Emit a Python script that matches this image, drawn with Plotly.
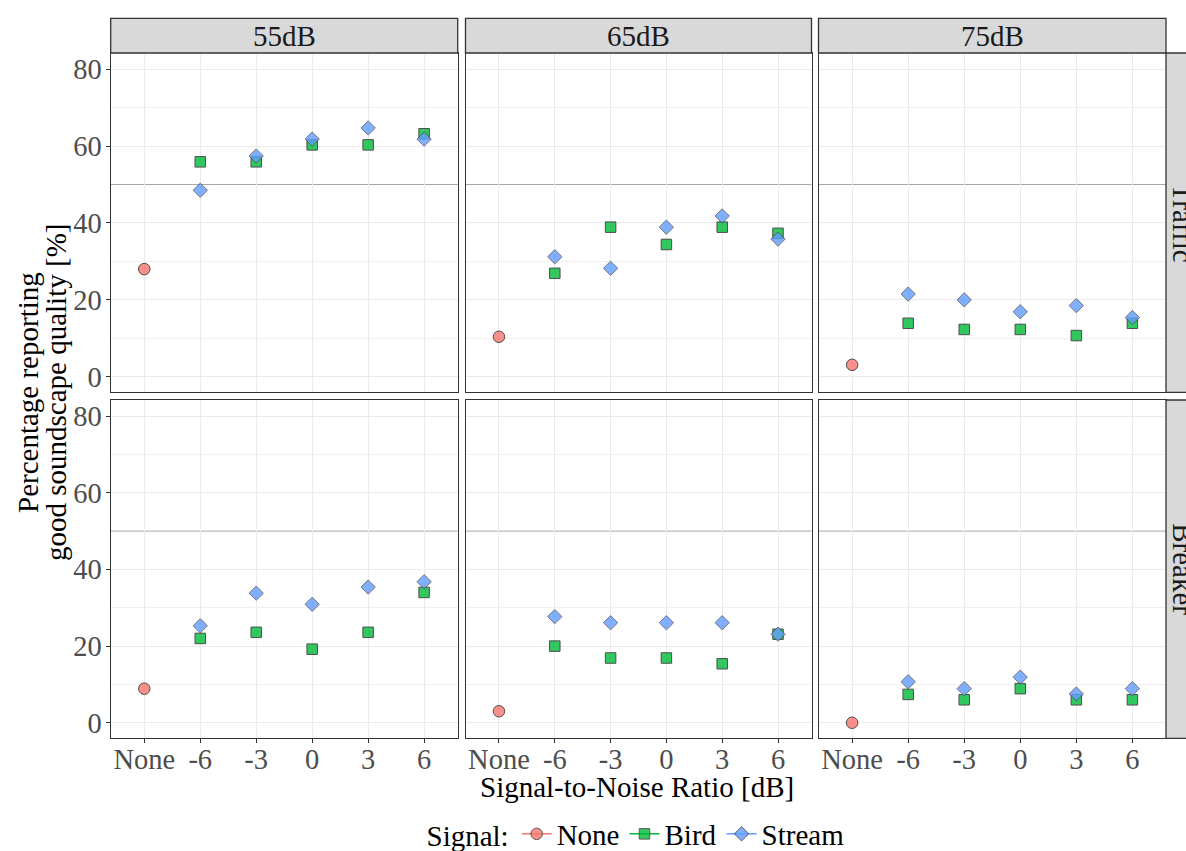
import plotly.graph_objects as go
from plotly.subplots import make_subplots

# ---------------- data ----------------
LEVELS = ["55dB", "65dB", "75dB"]
NOISES = ["Traffic", "Breaker"]
X_CATS = ["None", "-6", "-3", "0", "3", "6"]
SNR = ["-6", "-3", "0", "3", "6"]

# "None" signal condition, one value per level (55, 65, 75 dB)
NONE_TRAFFIC = [28.0, 10.4, 3.1]
NONE_BREAKER = [8.9, 3.0, 0.0]

# Bird signal, rows = level (55, 65, 75), cols = SNR (-6..6)
BIRD_TRAFFIC = [
    [55.9, 55.9, 60.3, 60.3, 63.2],
    [26.9, 38.9, 34.4, 38.9, 37.3],
    [13.9, 12.3, 12.3, 10.7, 13.9],
]
BIRD_BREAKER = [
    [22.0, 23.6, 19.2, 23.6, 34.0],
    [20.0, 16.9, 16.9, 15.4, 23.1],
    [7.4, 6.0, 8.9, 6.0, 6.0],
]
# Stream signal
STREAM_TRAFFIC = [
    [48.5, 57.4, 61.8, 64.7, 61.8],
    [31.2, 28.2, 38.9, 41.8, 35.8],
    [21.5, 20.0, 16.9, 18.5, 15.4],
]
STREAM_BREAKER = [
    [25.3, 33.8, 30.9, 35.4, 36.8],
    [27.7, 26.1, 26.1, 26.1, 23.1],
    [10.7, 8.9, 11.9, 7.5, 8.9],
]
REF_LINE = 50
Y_TICKS = [0, 20, 40, 60, 80]
Y_MINOR = [10, 30, 70]

# ---------------- styling ----------------
W, H = 1186, 851
FONT = "Liberation Serif"
C_NONE = "#F8766D"
C_BIRD = "#00BA38"
C_STREAM = "#619CFF"
OPAC = 0.8
TICK_SIZE = 28.5
TITLE_SIZE = 29

def px(x):
    return x / W

def py(y):
    return 1 - y / H

COL_X = [(110.7, 457.7), (465.5, 811.5), (818.5, 1166.0)]
ROW_Y = [(53.0, 392.3), (400.0, 738.3)]
STRIP_TOP = 18.3
STRIP_RIGHT = 1201.0

fig = make_subplots(rows=2, cols=3)

none_data = [NONE_TRAFFIC, NONE_BREAKER]
bird_data = [BIRD_TRAFFIC, BIRD_BREAKER]
stream_data = [STREAM_TRAFFIC, STREAM_BREAKER]

for r in range(2):
    for c in range(3):
        fig.add_trace(go.Scatter(
            x=["None"], y=[none_data[r][c]], mode="markers",
            marker=dict(symbol="circle", size=11.5, color=C_NONE, opacity=OPAC,
                        line=dict(color="#222222", width=1)),
            showlegend=False), row=r + 1, col=c + 1)
        fig.add_trace(go.Scatter(
            x=SNR, y=bird_data[r][c], mode="markers",
            marker=dict(symbol="square", size=10.5, color=C_BIRD, opacity=OPAC,
                        line=dict(color="#222222", width=1)),
            showlegend=False), row=r + 1, col=c + 1)
        fig.add_trace(go.Scatter(
            x=SNR, y=stream_data[r][c], mode="markers",
            marker=dict(symbol="diamond", size=11, color=C_STREAM, opacity=OPAC,
                        line=dict(color="#555555", width=1)),
            showlegend=False), row=r + 1, col=c + 1)

# legend entries
for name, sym, col, sz in [("None", "circle", C_NONE, 11.5),
                           ("Bird", "square", C_BIRD, 10.5),
                           ("Stream", "diamond", C_STREAM, 11)]:
    fig.add_trace(go.Scatter(
        x=[None], y=[None], mode="lines+markers", name=name,
        line=dict(color=col, width=1.5),
        marker=dict(symbol=sym, size=sz, color=col, opacity=OPAC,
                    line=dict(color="#333333", width=1)),
        showlegend=True), row=1, col=1)

shapes = []
annotations = []
for r in range(2):
    for c in range(3):
        idx = r * 3 + c + 1
        xa = "xaxis" if idx == 1 else f"xaxis{idx}"
        ya = "yaxis" if idx == 1 else f"yaxis{idx}"
        x0, x1 = COL_X[c]
        y0, y1 = ROW_Y[r]
        fig.layout[xa].update(
            domain=[px(x0), px(x1)], type="category",
            categoryorder="array", categoryarray=X_CATS,
            range=[-0.6, 5.6], showgrid=True, gridcolor="#ebebeb", gridwidth=1.3,
            showline=True, mirror=True, linecolor="#333333", linewidth=1.3,
            zeroline=False, automargin=False,
            ticks="outside" if r == 1 else "", ticklen=4, tickcolor="#333333",
            showticklabels=(r == 1), ticklabelstandoff=-9,
            tickfont=dict(family=FONT, size=TICK_SIZE, color="#4d4d4d"),
        )
        fig.layout[ya].update(
            domain=[py(y1), py(y0)], range=[-4.05, 84.2],
            tickvals=Y_TICKS, showgrid=True, gridcolor="#ebebeb", gridwidth=1.3,
            minor=dict(tickvals=Y_MINOR, showgrid=True, gridcolor="#f0f0f0",
                       gridwidth=1, ticks=""),
            showline=True, mirror=True, linecolor="#333333", linewidth=1.3,
            zeroline=False, automargin=False,
            ticks="outside" if c == 0 else "", ticklen=4, tickcolor="#333333",
            showticklabels=(c == 0), ticklabelstandoff=-2,
            tickfont=dict(family=FONT, size=TICK_SIZE, color="#4d4d4d"),
        )
        xr = "x" if idx == 1 else f"x{idx}"
        yr = "y" if idx == 1 else f"y{idx}"
        shapes.append(dict(type="line", xref=f"{xr} domain", yref=yr,
                           x0=0, x1=1, y0=REF_LINE, y1=REF_LINE,
                           line=dict(color="#a6a6a6", width=1), layer="below"))

# top strips
for c in range(3):
    x0, x1 = COL_X[c]
    shapes.append(dict(type="rect", xref="paper", yref="paper",
                       x0=px(x0), x1=px(x1), y0=py(ROW_Y[0][0]), y1=py(STRIP_TOP),
                       fillcolor="#d9d9d9", line=dict(color="#333333", width=1.3),
                       layer="above"))
    annotations.append(dict(xref="paper", yref="paper", x=px((x0 + x1) / 2),
                            y=py((STRIP_TOP + ROW_Y[0][0]) / 2),
                            text=LEVELS[c], showarrow=False,
                            font=dict(family=FONT, size=TITLE_SIZE, color="#1a1a1a"),
                            xanchor="center", yanchor="middle"))
# right strips
for r in range(2):
    y0, y1 = ROW_Y[r]
    shapes.append(dict(type="rect", xref="paper", yref="paper",
                       x0=px(COL_X[2][1]), x1=px(STRIP_RIGHT), y0=py(y1), y1=py(y0),
                       fillcolor="#d9d9d9", line=dict(color="#333333", width=1.3),
                       layer="above"))
    annotations.append(dict(xref="paper", yref="paper",
                            x=px((COL_X[2][1] + STRIP_RIGHT) / 2 - 0.5),
                            y=py((y0 + y1) / 2), textangle=90,
                            text=NOISES[r], showarrow=False,
                            font=dict(family=FONT, size=TITLE_SIZE, color="#1a1a1a"),
                            xanchor="center", yanchor="middle"))

# axis titles
annotations.append(dict(xref="paper", yref="paper", x=px(637), y=py(787),
                        text="Signal-to-Noise Ratio [dB]", showarrow=False,
                        font=dict(family=FONT, size=TITLE_SIZE, color="#000000"),
                        xanchor="center", yanchor="middle"))
for txt, xc in [("Percentage reporting", 28), ("good soundscape quality [%]", 56)]:
    annotations.append(dict(xref="paper", yref="paper", x=px(xc), y=py(393),
                            text=txt, textangle=-90, showarrow=False,
                            font=dict(family=FONT, size=TITLE_SIZE, color="#000000"),
                            xanchor="center", yanchor="middle"))

fig.update_layout(
    width=W, height=H, template="none",
    margin=dict(l=0, r=0, t=0, b=0, autoexpand=False),
    paper_bgcolor="white", plot_bgcolor="white",
    shapes=shapes, annotations=annotations,
    showlegend=True,
    legend=dict(orientation="h", x=px(637), xanchor="center", y=py(834),
                yanchor="middle", title=dict(text="Signal:", side="left",
                                             font=dict(family=FONT, size=TITLE_SIZE, color="#000000")),
                font=dict(family=FONT, size=TITLE_SIZE, color="#000000"),
                itemwidth=30, tracegroupgap=0, bgcolor="rgba(0,0,0,0)"),
    font=dict(family=FONT),
)

fig.write_html("out.html")
